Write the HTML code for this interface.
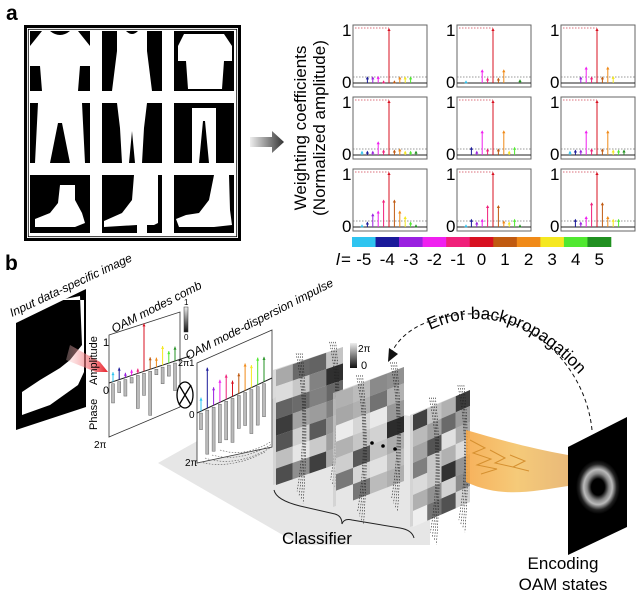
<!DOCTYPE html>
<html><head><meta charset="utf-8">
<style>
html,body{margin:0;padding:0;background:#fff;}
svg{display:block;font-family:"Liberation Sans",Arial,sans-serif;}
</style></head>
<body>
<svg id="s" xmlns="http://www.w3.org/2000/svg" width="640" height="597" viewBox="0 0 640 597">
<defs>
<linearGradient id="ar" x1="0" x2="1"><stop offset="0" stop-color="#eee"/><stop offset="1" stop-color="#333"/></linearGradient>
<linearGradient id="red" x1="0" x2="1"><stop offset="0" stop-color="#fbd0d0" stop-opacity="0.3"/><stop offset="1" stop-color="#e8202a"/></linearGradient>
<linearGradient id="vb" x1="0" y1="0" x2="0" y2="1"><stop offset="0" stop-color="#eee"/><stop offset="1" stop-color="#111"/></linearGradient>
<linearGradient id="beam" x1="0" x2="1"><stop offset="0" stop-color="#f6a94a"/><stop offset="0.5" stop-color="#f4c46a"/><stop offset="1" stop-color="#e7b26a"/></linearGradient>
<radialGradient id="ring" cx="0.5" cy="0.5" r="0.5"><stop offset="0.3" stop-color="#000"/><stop offset="0.5" stop-color="#888"/><stop offset="0.65" stop-color="#bbb"/><stop offset="0.85" stop-color="#222"/><stop offset="1" stop-color="#000"/></radialGradient>
<path id="ebp" d="M430,330 Q515,290 596,395"/>
</defs>

<!-- Panel a -->
<text x="6" y="20" font-size="21" font-weight="bold">a</text>
<rect x="24" y="25" width="217" height="216" fill="#000"/>
<rect x="27" y="28" width="211" height="210" fill="#fff"/>
<rect x="28.3" y="29.3" width="208.4" height="207.4" fill="none" stroke="#000" stroke-width="0.8"/>
<g id="thumbs"></g>

<polygon points="250,137 272,137 272,131 284,142 272,153 272,147 250,147" fill="url(#ar)"/>

<g transform="translate(306,128) rotate(-90)" font-size="17" text-anchor="middle">
<text x="0" y="0">Weighting coefficients</text>
<text x="0" y="19">(Normalized amplitude)</text>
</g>
<g id="charts"></g>
<g id="cbar"></g>

<!-- Panel b -->
<text x="5" y="270" font-size="21" font-weight="bold">b</text>
<text transform="translate(12,317) rotate(-25)" font-size="12" font-style="italic">Input data-specific image</text>
<polygon points="16,323 86,289 86,407 16,430" fill="#000"/>
<path d="M60,300 L80,296 L82,345 L70,360 L60,368 L40,380 L22,392 L22,415 L50,405 L78,385 L84,372 L84,300 Z" fill="#fff"/>
<polygon points="70,345 100,362 108,372 96,372 66,360" fill="url(#red)"/>

<text transform="translate(114,333) rotate(-27)" font-size="12" font-style="italic">OAM modes comb</text>
<polygon points="109,335 180,312 180,407 109,437" fill="#fff" stroke="#333" stroke-width="0.8"/>
<line x1="109" y1="383" x2="190" y2="356" stroke="#222" stroke-width="1"/>
<g id="comb"></g>
<text transform="translate(97,385) rotate(-90)" font-size="11">Amplitude</text>
<text transform="translate(97,430) rotate(-90)" font-size="11">Phase</text>
<text x="103" y="346" font-size="11">1</text>
<text x="103" y="394" font-size="11">0</text>
<text x="94" y="448" font-size="10">2π</text>
<rect x="184" y="307" width="4" height="25" fill="url(#vb)" stroke="#333" stroke-width="0.5"/>
<text x="184" y="305" font-size="8">1</text>
<text x="184" y="340" font-size="8">0</text>
<ellipse cx="185" cy="395" rx="8" ry="13" fill="#fff" stroke="#000" stroke-width="1.3"/>
<path d="M179,385 L191,405 M191,385 L179,405" stroke="#000" stroke-width="1.3"/>
<text x="178" y="366" font-size="9">2π1</text>

<polygon points="158,463 285,392 430,420 430,545 300,545" fill="#e6e6e6"/>
<text transform="translate(188,360) rotate(-27)" font-size="12" font-style="italic">OAM mode-dispersion impulse</text>
<polygon points="197,363 272,330 272,447 197,463" fill="#fff" stroke="#333" stroke-width="0.8"/>
<line x1="197" y1="413" x2="272" y2="378" stroke="#222" stroke-width="1"/>
<g id="disp"></g>
<text x="189" y="418" font-size="10">0</text>
<text x="185" y="466" font-size="10">2π</text>
<g fill="none" stroke="#555" stroke-width="0.6" stroke-dasharray="1.5,1.5">
<path d="M200,462 Q230,470 265,452"/><path d="M205,458 Q235,468 270,448"/><path d="M212,455 Q240,463 272,444"/><path d="M220,450 Q245,458 272,441"/>
</g>

<g id="panels"></g>
<rect x="350" y="343" width="7" height="25" fill="url(#vb)"/>
<text x="358" y="352" font-size="10">2π</text>
<text x="361" y="369" font-size="11">0</text>

<!-- beam -->
<path d="M466,430 C500,440 530,448 568,455 L568,486 C530,492 500,498 466,482 Z" fill="url(#beam)" opacity="0.9"/>
<path d="M470,440 l15,8 l-12,5 l18,6 l-14,6 l20,4 l-16,5 M490,450 l15,8 l-10,5 l18,4 M510,455 l15,6 l-12,6 l16,4" stroke="#d59030" stroke-width="1" fill="none"/>
<polygon points="568,447 627,417 627,527 568,555" fill="#000"/>
<ellipse cx="598" cy="487" rx="22" ry="27" fill="url(#ring)"/>
<text x="563" y="569" font-size="17" text-anchor="middle">Encoding</text>
<text x="563" y="590" font-size="17" text-anchor="middle">OAM states</text>

<!-- error backprop -->
<text font-size="17"><textPath href="#ebp">Error backpropagation</textPath></text>
<path d="M592,430 C585,360 520,305 455,315 C420,320 400,335 392,352" fill="none" stroke="#111" stroke-width="1" stroke-dasharray="4,3"/>
<polygon points="388,362 389,348 398,354" fill="#111"/>

<text x="317" y="544" font-size="17" text-anchor="middle">Classifier</text>
<path d="M274,490 Q276,500 300,506 L335,514 Q342,516 342,524 Q344,518 352,520 L400,528 Q412,530 414,538" fill="none" stroke="#222" stroke-width="1"/>
</svg>
<script>
const NS="http://www.w3.org/2000/svg";
function el(p,t,a,txt){const e=document.createElementNS(NS,t);for(const k in a)e.setAttribute(k,a[k]);if(txt!==undefined)e.textContent=txt;p.appendChild(e);return e;}
const cols=["#2ec4f0","#1a1a9a","#9a20e0","#f020f0","#f0207a","#d81020","#c05a10","#f08a18","#f5e820","#50e830","#209020"];
const th=document.getElementById('thumbs');
const cx=[30,102,174],cy=[31,103,175];
const shapes=[
 "M12,0 L20,0 Q30,8 40,0 L48,0 L60,15 L60,35 L50,35 L48,60 L12,60 L10,35 L0,35 L0,15 Z",
 "M15,0 L24,0 Q30,6 36,0 L45,0 L45,20 L50,60 L10,60 L15,20 Z",
 "M10,3 L50,3 L58,15 L58,30 L50,30 L48,58 L14,58 L12,30 L4,30 L4,15 Z",
 "M8,0 L52,0 L55,60 L40,60 L32,20 L28,20 L20,60 L5,60 Z",
 "M15,0 L45,0 L42,25 L40,60 L33,60 L30,28 L27,60 L20,60 L18,25 Z",
 "M18,5 L42,5 L42,60 L35,60 L31,18 L29,18 L25,60 L18,60 Z",
 "M30,10 L45,10 L45,25 L52,38 L55,48 L45,52 L5,52 L5,44 L20,38 L28,28 Z",
 "M32,0 L56,0 L56,48 L52,50 L45,50 L45,58 L35,58 L35,50 L2,52 L2,46 L20,38 L30,25 Z",
 "M40,0 L55,0 L56,35 L58,50 L40,52 L5,52 L2,44 L12,40 L25,38 L35,25 Z"];
let i=0;
for(let r=0;r<3;r++)for(let c=0;c<3;c++){
 const g=el(th,'g',{transform:`translate(${cx[c]},${cy[r]})`});
 el(g,'rect',{x:0,y:0,width:60,height:r==2?58:60,fill:'#000'});
 el(g,'path',{d:shapes[i++],fill:'#fff'});
}
const data=[
[0,.12,.12,.13,.05,1,.05,.12,.12,.12,0],[.05,0,0,.25,.1,1,.1,.25,0,0,.07],[0,0,.12,.3,.12,1,.12,.3,.13,0,0],
[.08,.08,.08,.25,.1,1,.1,.12,.08,.08,.08],[0,.15,.08,.45,.12,1,.12,.45,.08,.15,0],[.08,.1,.1,.45,.12,1,.12,.45,.1,.1,.1],
[.05,.1,.25,.3,.5,1,.5,.3,.2,.1,.05],[.05,.15,.1,.15,.4,1,.4,.12,.1,.15,.05],[0,.15,.1,.2,.45,1,.45,.2,.15,.15,0]];
const ch=document.getElementById('charts');
const gx=[353,457,561],gy=[25,97,169];
for(let r=0;r<3;r++)for(let c=0;c<3;c++){
 const x=gx[c],y=gy[r],w=74,h=62;
 el(ch,'rect',{x:x,y:y,width:w,height:h,fill:'#fff',stroke:'#666','stroke-width':1});
 const base=y+58;
 el(ch,'line',{x1:x+2,y1:y+3,x2:x+36,y2:y+3,stroke:'#d04050','stroke-width':0.8,'stroke-dasharray':'1.5,1.5'});
 el(ch,'line',{x1:x,y1:base-6,x2:x+w,y2:base-6,stroke:'#777','stroke-width':0.8,'stroke-dasharray':'1.5,1.5'});
 el(ch,'line',{x1:x,y1:base,x2:x+w,y2:base,stroke:'#222','stroke-width':1});
 el(ch,'text',{x:x-11,y:y+11,'font-size':17},'1');
 el(ch,'text',{x:x-11,y:base+5,'font-size':17},'0');
 data[r*3+c].forEach((v,k)=>{
  if(v<=0)return;const sx=x+36+(k-5)*5.4,ty=base-v*55;
  el(ch,'line',{x1:sx,y1:base,x2:sx,y2:ty+2,stroke:cols[k],'stroke-width':1});
  el(ch,'polygon',{points:`${sx-1.6},${ty+3} ${sx+1.6},${ty+3} ${sx},${ty}`,fill:cols[k]});
 });
}
const cb=document.getElementById('cbar');
const sw=(611-352)/11;
cols.forEach((c,k)=>{el(cb,'rect',{x:352+k*sw,y:237,width:sw+0.3,height:10,fill:c});
 el(cb,'text',{x:352+k*sw+sw/2,y:265,'font-size':17,'text-anchor':'middle'},String(k-5));});
el(cb,'text',{x:336,y:265,'font-size':17,'font-style':'italic'},'l');
el(cb,'text',{x:341,y:265,'font-size':17},'=');
function tiltStems(gid,x0,y0,slope,dx,amps,phs,amax,pmax){
 const g=document.getElementById(gid);
 amps.forEach((v,k)=>{const sx=x0+k*dx,by=y0+slope*k*dx;
  const ty=by-v*amax;
  el(g,'line',{x1:sx,y1:by,x2:sx,y2:ty,stroke:cols[k],'stroke-width':1});
  el(g,'polygon',{points:`${sx-1.5},${ty+3} ${sx+1.5},${ty+3} ${sx},${ty}`,fill:cols[k]});
  const p=phs[k]*pmax;
  el(g,'rect',{x:sx-1.5,y:by+2,width:3,height:p,fill:'#bbb',stroke:'#666','stroke-width':0.5});
 });
}
tiltStems('comb',113,381.7,-0.333,6.2,[.2,.25,.1,.12,.1,1,.25,.2,.4,.25,.3],[.35,.2,.3,.1,.6,.4,.8,.1,.3,.2,.5],48,55);
tiltStems('disp',201,411.1,-0.467,6.3,[.3,.9,.4,.5,.55,.35,.45,.6,.5,.6,.55],[.3,.8,.8,.7,.7,.8,.6,.6,.8,.7,.6],45,55);
const P=document.getElementById('panels');
function panel(x0,x1,ytl,ytr,ybl,rows,seed){
 const g=el(P,'g',{});
 const ncol=4;let s=seed;
 function rnd(){s=(s*9301+49297)%233280;return s/233280;}
 const hL=ybl-ytl;
 el(g,'polygon',{points:`${x0-3},${ytl} ${x1},${ytr} ${x1},${ytr+hL} ${x0-3},${ybl}`,fill:'#ccc',opacity:0.7});
 for(let c=0;c<ncol;c++)for(let r=0;r<rows;r++){
  const xa=x0+(x1-x0)*c/ncol,xb=x0+(x1-x0)*(c+1)/ncol;
  const fa=(ytr-ytl)*c/ncol,fb=(ytr-ytl)*(c+1)/ncol;
  const ya=ytl+hL*r/rows,yb=ytl+hL*(r+1)/rows;
  const v=Math.floor(40+rnd()*200);
  el(g,'polygon',{points:`${xa},${ya+fa} ${xb},${ya+fb} ${xb},${yb+fb} ${xa},${yb+fa}`,fill:`rgb(${v},${v},${v})`});
 }
 for(const c of [1,3]){const xm=x0+(x1-x0)*(c+0.5)/ncol,fm=(ytr-ytl)*(c+0.5)/ncol;
  for(let k=0;k<4;k++)el(g,'path',{d:`M${xm-5+k*2},${ytl+fm-8} Q${xm+8},${ytl+fm+hL/2} ${xm-4+k*2},${ytl+fm+hL+15+k*4}`,fill:'none',stroke:'#222','stroke-width':0.6,'stroke-dasharray':'1.5,1.5'});}
}
panel(276,343,370,347,485,7,11);
panel(336,404,393,367,507,7,37);
panel(413,470,415,390,527,7,73);
for(const [x,y] of [[372,446],[383,449],[395,452]])el(P,'circle',{cx:x,cy:y-3,r:1.8,fill:'#000'});
</script>
</body></html>
